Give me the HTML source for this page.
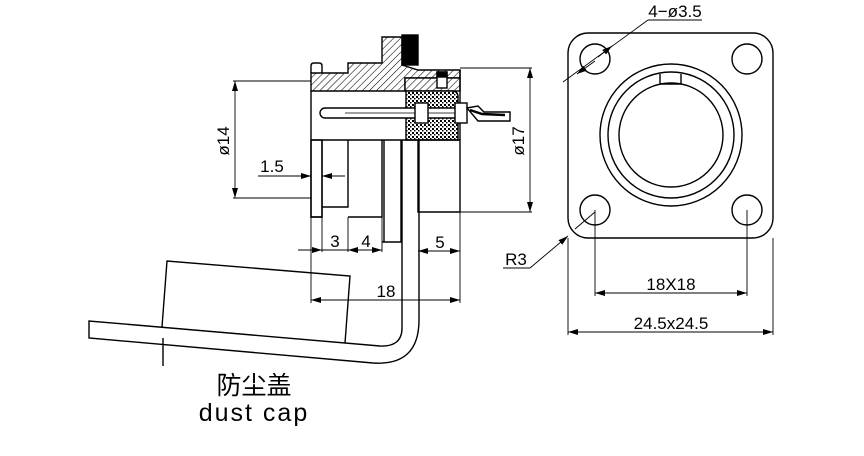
<!DOCTYPE html>
<html><head><meta charset="utf-8"><style>
html,body{margin:0;padding:0;background:#fff;}
svg{display:block;}
text{font-family:"Liberation Sans","Noto Sans CJK SC",sans-serif;fill:#000;}
</style></head><body>
<svg width="864" height="456" viewBox="0 0 864 456" xmlns="http://www.w3.org/2000/svg">
<defs>
<pattern id="h" width="5" height="5" patternUnits="userSpaceOnUse" patternTransform="rotate(45)">
<rect width="5" height="5" fill="#fff"/><line x1="0" y1="0" x2="0" y2="5" stroke="#000" stroke-width="1.1"/></pattern>
<pattern id="k" width="4" height="4" patternUnits="userSpaceOnUse">
<rect width="4" height="4" fill="#fff"/><rect width="2" height="2" fill="#000"/><rect x="2" y="2" width="1.5" height="1.5" fill="#000"/></pattern>
<marker id="a" viewBox="0 0 10 6" refX="10" refY="3" markerWidth="10" markerHeight="6" orient="auto-start-reverse" markerUnits="userSpaceOnUse"><path d="M0,0 L10,3 L0,6 z" fill="#000"/></marker>
</defs>
<g fill="none" stroke="#000" stroke-width="1.4">
<path d="M311,73 L348,73 L348,63 L382,63 L382,37 L402,37 L402,65 L418,70 L460,70 L460,78 L405,78 L405,91 L311,91 Z" fill="url(#h)"/>
<rect x="402" y="35" width="16" height="30" fill="#000"/>
<path d="M311,73 L311,66 Q311,63 314,63 L319,63 Q322,63 322,66 L322,73"/>
<rect x="405" y="78" width="55" height="13" fill="url(#h)"/>
<rect x="437" y="72" width="10" height="16" fill="#fff"/>
<rect x="437" y="72" width="10" height="5" fill="#000"/>
<path d="M406,91 L452,91 Q458,91 458,97 L458,140 L406,140 Z" fill="url(#k)"/>
<path d="M311,91 L311,217 L322,217 L322,140 M311,140 L460,140 L460,212"/>
<rect x="311" y="140" width="11" height="77"/>
<path d="M322,207 L348,207 L348,140 M348,217 L382,217 L382,140 M382,242 L401,242 L401,140 M384,140 L384,242"/>
<path d="M418,140 L418,212 L460,212 M460,70 L460,140"/>
<rect x="320" y="108" width="142" height="10" rx="5" fill="#fff"/>
<line x1="345" y1="113" x2="455" y2="113" stroke-width="0.8"/>
<rect x="415" y="103" width="13" height="20" fill="#fff"/>
<rect x="455" y="103" width="12" height="20" fill="#fff"/>
<path d="M467,108 L478,106 L484,112 L510,112 L510,121 L478,121 Z" fill="#fff"/>
<path d="M470,110 L482,114 L505,115" stroke-width="2.5"/>
</g>
<g fill="none" stroke="#000" stroke-width="1.4">
<path d="M402,140 L402,328 Q402,347 380,346 L89,321 L89,338 L373,363 Q419,366 419,320 L419,140"/>
<path d="M162,327 L167,261 L350,276 L345,343"/>
<line x1="163" y1="338" x2="163" y2="366"/>
</g>
<text x="254" y="394" font-size="25" text-anchor="middle">防尘盖</text>
<text x="254" y="421" font-size="25" text-anchor="middle" letter-spacing="2">dust cap</text>
<g stroke="#000" stroke-width="0.9" fill="none">
<line x1="233" y1="81" x2="311" y2="81"/><line x1="233" y1="198" x2="311" y2="198"/>
<line x1="235" y1="81" x2="235" y2="198" marker-start="url(#a)" marker-end="url(#a)"/>
<line x1="460" y1="68" x2="532" y2="68"/><line x1="460" y1="212" x2="532" y2="212"/>
<line x1="530" y1="68" x2="530" y2="212" marker-start="url(#a)" marker-end="url(#a)"/>
<line x1="258" y1="176" x2="311" y2="176" marker-end="url(#a)"/>
<line x1="345" y1="176" x2="322" y2="176" marker-end="url(#a)"/>
<line x1="311" y1="217" x2="311" y2="303"/>
<line x1="322" y1="217" x2="322" y2="252"/>
<line x1="348" y1="217" x2="348" y2="252"/>
<line x1="382" y1="217" x2="382" y2="252"/>
<line x1="460" y1="212" x2="460" y2="303"/>
<line x1="298" y1="250" x2="322" y2="250" marker-end="url(#a)"/>
<line x1="322" y1="250" x2="348" y2="250"/>
<line x1="348" y1="250" x2="382" y2="250" marker-start="url(#a)" marker-end="url(#a)"/>
<line x1="418" y1="251" x2="460" y2="251" marker-start="url(#a)" marker-end="url(#a)"/>
<line x1="311" y1="300" x2="460" y2="300" marker-start="url(#a)" marker-end="url(#a)"/>
</g>
<g font-size="17">
<text x="0" y="0" transform="translate(229,141) rotate(-90)" text-anchor="middle">ø14</text>
<text x="0" y="0" transform="translate(524,141) rotate(-90)" text-anchor="middle">ø17</text>
<text x="272" y="172" text-anchor="middle">1.5</text>
<text x="335" y="247" text-anchor="middle">3</text>
<text x="366" y="247" text-anchor="middle">4</text>
<text x="440" y="248" text-anchor="middle">5</text>
<text x="386" y="297" text-anchor="middle">18</text>
</g>
<g fill="none" stroke="#000" stroke-width="1.4">
<rect x="568" y="33" width="205" height="205" rx="20"/>
<circle cx="595" cy="59" r="15"/><circle cx="747" cy="59" r="15"/>
<circle cx="595" cy="210" r="15"/><circle cx="747" cy="210" r="15"/>
<circle cx="671" cy="135" r="71"/><circle cx="671" cy="135" r="63"/><circle cx="671" cy="135" r="52"/>
<path d="M660,74 L660,84 M681,74 L681,84 M660,84 L681,84"/>
</g>
<g stroke="#000" stroke-width="0.9" fill="none">
<line x1="595" y1="210" x2="595" y2="296"/><line x1="747" y1="210" x2="747" y2="296"/>
<line x1="595" y1="293" x2="747" y2="293" marker-start="url(#a)" marker-end="url(#a)"/>
<line x1="568" y1="238" x2="568" y2="335"/><line x1="773" y1="238" x2="773" y2="335"/>
<line x1="568" y1="332" x2="773" y2="332" marker-start="url(#a)" marker-end="url(#a)"/>
<line x1="648" y1="20" x2="702" y2="20"/>
<line x1="648" y1="20" x2="563" y2="82"/>
<line x1="598" y1="57" x2="612" y2="46" marker-end="url(#a)"/>
<line x1="595" y1="61" x2="577" y2="74" marker-end="url(#a)"/>
<line x1="503" y1="268" x2="530" y2="268"/>
<line x1="530" y1="268" x2="568" y2="236" marker-end="url(#a)"/>
<line x1="575" y1="229" x2="595" y2="212"/>
</g>
<g font-size="17">
<text x="675" y="17" text-anchor="middle">4−ø3.5</text>
<text x="516" y="265" text-anchor="middle">R3</text>
<text x="671" y="290" text-anchor="middle">18X18</text>
<text x="671" y="329" text-anchor="middle">24.5x24.5</text>
</g>
</svg>
</body></html>
